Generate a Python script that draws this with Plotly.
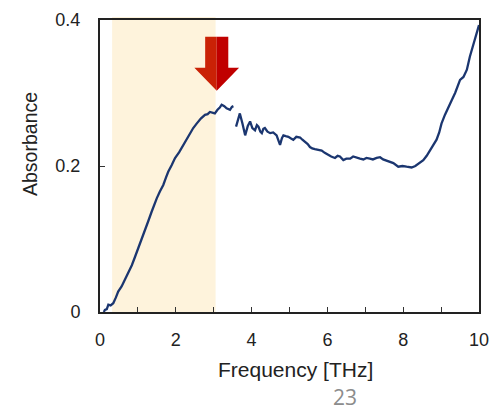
import plotly.graph_objects as go

# Measured spectrum (two segments, gap near 3.55 THz)
freq = [0.10, 0.13, 0.18, 0.22, 0.28, 0.35, 0.42, 0.48, 0.57, 0.66, 0.75, 0.84, 0.92, 1.01, 1.10, 1.19, 1.27, 1.36, 1.43, 1.50,
        1.58, 1.67, 1.74, 1.80, 1.89, 1.98, 2.09, 2.20, 2.28, 2.37, 2.46, 2.55, 2.66, 2.77, 2.84, 2.90, 2.97, 3.03, 3.10, 3.16,
        3.21, 3.28, 3.34, 3.43, 3.48, 3.52,
        None,
        3.59, 3.64, 3.69, 3.76, 3.83, 3.90, 3.96, 4.02, 4.09, 4.14, 4.18, 4.23, 4.27, 4.31, 4.35, 4.42, 4.49, 4.57, 4.66, 4.70, 4.75,
        4.80, 4.84, 4.90, 4.97, 5.03, 5.10, 5.18, 5.28, 5.34, 5.41, 5.48, 5.54, 5.60, 5.67, 5.76, 5.85, 5.93, 6.02, 6.10, 6.20,
        6.27, 6.33, 6.42, 6.50, 6.60, 6.68, 6.77, 6.86, 6.95, 7.03, 7.12, 7.20, 7.30, 7.39, 7.47, 7.56, 7.65, 7.74, 7.87, 7.98,
        8.09, 8.22, 8.32, 8.40, 8.53, 8.62, 8.71, 8.80, 8.88, 8.95, 9.01, 9.10, 9.19, 9.28, 9.37, 9.50, 9.59, 9.68, 9.76, 9.89, 10.0]
absorbance = [0.000, 0.003, 0.004, 0.010, 0.009, 0.012, 0.020, 0.028, 0.035, 0.044, 0.053, 0.064, 0.075, 0.087, 0.100, 0.112, 0.124, 0.137, 0.147, 0.156,
              0.165, 0.174, 0.184, 0.192, 0.201, 0.211, 0.219, 0.229, 0.237, 0.245, 0.252, 0.258, 0.265, 0.270, 0.271, 0.274, 0.273, 0.272, 0.277, 0.280,
              0.284, 0.282, 0.279, 0.277, 0.281, 0.282,
              None,
              0.254, 0.262, 0.272, 0.258, 0.242, 0.255, 0.261, 0.252, 0.249, 0.256, 0.254, 0.247, 0.245, 0.251, 0.252, 0.247, 0.245, 0.246, 0.242, 0.236, 0.229,
              0.238, 0.242, 0.241, 0.240, 0.238, 0.236, 0.240, 0.239, 0.236, 0.233, 0.230, 0.226, 0.224, 0.223, 0.222, 0.221, 0.218, 0.215, 0.213, 0.211,
              0.214, 0.213, 0.208, 0.210, 0.210, 0.213, 0.211, 0.210, 0.209, 0.211, 0.210, 0.209, 0.211, 0.212, 0.209, 0.207, 0.206, 0.204, 0.199, 0.200,
              0.199, 0.198, 0.200, 0.203, 0.208, 0.214, 0.222, 0.228, 0.236, 0.246, 0.258, 0.270, 0.281, 0.290, 0.300, 0.318, 0.322, 0.332, 0.350, 0.373, 0.393]

x_ticks = [0, 1, 2, 3, 4, 5, 6, 7, 8, 9, 10]
x_ticktext = ["0", "", "2", "", "4", "", "6", "", "8", "", "10"]
y_ticks = [0, 0.2, 0.4]
y_ticktext = ["0", "0.2", "0.4"]

band = (0.32, 3.05)          # shaded frequency band
arrow_x, arrow_tip_y = 3.08, 0.303

FONT = "Liberation Sans, Arial, sans-serif"
fig = go.Figure()
fig.add_trace(go.Scatter(x=freq, y=absorbance, mode="lines",
                         line=dict(color="#1B3670", width=2.3), connectgaps=False,
                         hoverinfo="skip", showlegend=False))

fig.add_shape(type="rect", xref="x", yref="paper", x0=band[0], x1=band[1], y0=0, y1=1.01,
              fillcolor="#FEF3DC", line=dict(width=0), layer="below")

# red arrow (two-tone)
sw, hw, hh, sh = 0.305, 0.59, 0.0315, 0.0425
xl, xr = arrow_x - sw, arrow_x + sw
yt = arrow_tip_y
yh = yt + hh
ys = yh + sh
left = f"M {arrow_x},{yt} L {arrow_x - hw},{yh} L {xl},{yh} L {xl},{ys} L {arrow_x},{ys} Z"
right = f"M {arrow_x},{yt} L {arrow_x + hw},{yh} L {xr},{yh} L {xr},{ys} L {arrow_x},{ys} Z"
fig.add_shape(type="path", path=left, xref="x", yref="y", fillcolor="#CA2206", line=dict(width=0))
fig.add_shape(type="path", path=right, xref="x", yref="y", fillcolor="#C00000", line=dict(width=0))

fig.update_layout(
    width=492, height=410,
    margin=dict(l=100, r=13, t=20, b=98, autoexpand=False),
    paper_bgcolor="white", plot_bgcolor="white",
    font=dict(family=FONT, size=18, color="#222222"),
    showlegend=False,
)
fig.update_xaxes(range=[0, 10], tickvals=x_ticks, ticktext=x_ticktext, ticks="inside", ticklen=5,
                 tickwidth=1, tickcolor="#333", showline=True, linecolor="#222", linewidth=2, mirror=True,
                 showgrid=False, zeroline=False, ticklabelstandoff=10, automargin=False,
                 tickfont=dict(family=FONT, size=18, color="#222"))
fig.update_yaxes(range=[0, 0.4], tickvals=y_ticks, ticktext=y_ticktext, ticks="inside", ticklen=5,
                 tickwidth=1, tickcolor="#333", showline=True, linecolor="#222", linewidth=2, mirror=True,
                 showgrid=False, zeroline=False, ticklabelstandoff=14, automargin=False,
                 tickfont=dict(family=FONT, size=18, color="#222"))

fig.add_annotation(text="Frequency [THz]", xref="paper", yref="paper", x=0.517, y=-0.198,
                   showarrow=False, xanchor="center", yanchor="middle",
                   font=dict(family=FONT, size=21, color="#222"))
fig.add_annotation(text="Absorbance", xref="paper", yref="paper", x=-0.185, y=0.575,
                   showarrow=False, textangle=-90, xanchor="center", yanchor="middle",
                   font=dict(family=FONT, size=19.5, color="#222"))
fig.add_annotation(text="23", xref="paper", yref="paper", x=0.646, y=-0.291,
                   showarrow=False, xanchor="center", yanchor="middle",
                   font=dict(family="Open Sans, sans-serif", size=21, color="#8C8C8C"))

fig.write_html("out.html", config={"displayModeBar": False},
               post_script="document.body.style.margin='0';document.body.style.overflow='hidden';")
